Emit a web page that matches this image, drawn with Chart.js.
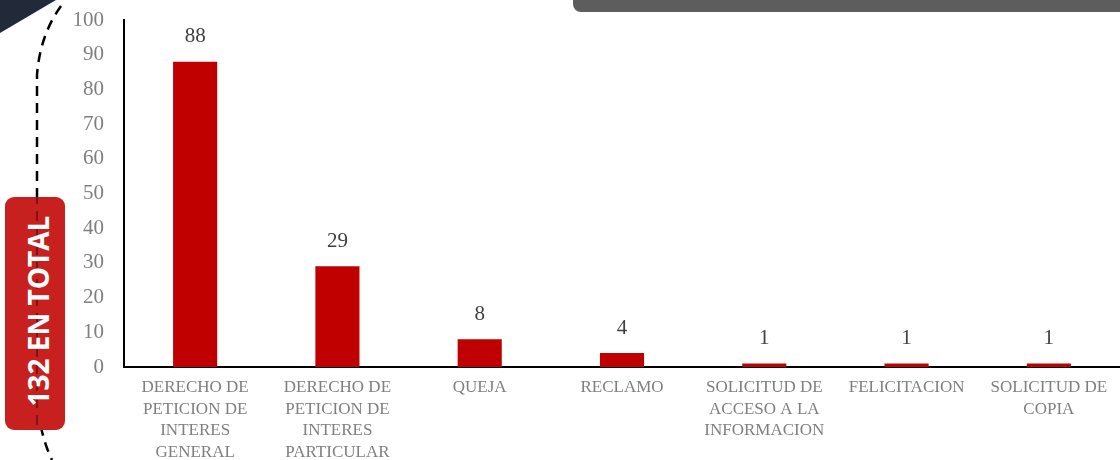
<!DOCTYPE html>
<html>
<head>
<meta charset="utf-8">
<script src="https://cdn.jsdelivr.net/npm/chart.js@4.4.1/dist/chart.umd.min.js"></script>
<style>
  html, body { margin: 0; padding: 0; background: #fff; }
  #wrap { position: relative; width: 1120px; height: 460px; overflow: hidden; }
  .deco { position: absolute; left: 0; top: 0; pointer-events: none; }
  canvas#chart { position: absolute; left: 0; top: 0; }
  #totalBox {
    position: absolute; left: 5px; top: 197px; width: 60px; height: 233px;
    background: #c8201f; border-radius: 9px;
  }
  #totalText {
    position: absolute; left: 38px; top: 311px;
    transform: translate(-50%, -50%) rotate(-90deg);
    white-space: nowrap; color: #fff; font: bold 28px "Open Sans", "DejaVu Sans", sans-serif;
  }
  #banner {
    position: absolute; left: 573px; top: -10px; width: 560px; height: 22px;
    background: #5d5d5d; border-radius: 8px;
  }
</style>
</head>
<body>
<div id="wrap">
  <svg class="deco" width="1120" height="460">
    <polygon points="0,0 56,0 0,33" fill="#222a3a"/>
    <path d="M61,6 Q40,35 37,75 L37,400 Q40,435 52,460" fill="none" stroke="#000" stroke-width="2.5" stroke-dasharray="10,7"/>
  </svg>
  <div id="banner"></div>
  <div id="totalBox"></div>
  <svg class="deco" width="1120" height="460">
    <line x1="37" y1="197" x2="37" y2="430" stroke="#7a1515" stroke-width="2" stroke-dasharray="10,7" stroke-dashoffset="3"/>
  </svg>
  <div id="totalText">132 EN TOTAL</div>
  <canvas id="chart" width="1120" height="460"></canvas>
</div>
<script>
// 数据
const categories = [
  ['DERECHO DE', 'PETICION DE', 'INTERES', 'GENERAL'],
  ['DERECHO DE', 'PETICION DE', 'INTERES', 'PARTICULAR'],
  ['QUEJA'],
  ['RECLAMO'],
  ['SOLICITUD DE', 'ACCESO A LA', 'INFORMACION'],
  ['FELICITACION'],
  ['SOLICITUD DE', 'COPIA']
];
const counts = [88, 29, 8, 4, 1, 1, 1];
const yTicks = [0, 10, 20, 30, 40, 50, 60, 70, 80, 90, 100];

// 柱顶数值标签
const valueLabels = {
  id: 'valueLabels',
  afterDatasetsDraw(chart) {
    const ctx = chart.ctx;
    const meta = chart.getDatasetMeta(0);
    ctx.save();
    ctx.font = '21px "Liberation Serif", serif';
    ctx.fillStyle = '#404040';
    ctx.textAlign = 'center';
    ctx.textBaseline = 'middle';
    meta.data.forEach((bar, i) => {
      ctx.fillText(String(counts[i]), bar.x, bar.y - 25);
    });
    ctx.restore();
  }
};

new Chart(document.getElementById('chart'), {
  type: 'bar',
  data: {
    labels: categories,
    datasets: [{
      data: counts,
      backgroundColor: '#c00000',
      borderWidth: 0,
      barPercentage: 0.31,
      categoryPercentage: 1
    }]
  },
  options: {
    responsive: false,
    animation: false,
    layout: { padding: { top: 20, right: 0, left: 0, bottom: 0 } },
    plugins: { legend: { display: false }, tooltip: { enabled: false } },
    scales: {
      y: {
        min: 0,
        max: 100,
        afterBuildTicks: (scale) => { scale.ticks = yTicks.map(v => ({ value: v })); },
        afterFit: (scale) => { scale.width = 124; scale.paddingTop = 0; scale.paddingBottom = 0; },
        border: { display: true, color: '#000', width: 2 },
        grid: { display: false, drawTicks: false },
        ticks: {
          padding: 20,
          color: '#7f7f7f',
          font: { family: '"Liberation Serif", serif', size: 21 }
        }
      },
      x: {
        afterFit: (scale) => { scale.height = 93; },
        border: { display: true, color: '#000', width: 2 },
        grid: { display: false, drawTicks: false },
        ticks: {
          padding: 10,
          maxRotation: 0,
          autoSkip: false,
          color: '#7f7f7f',
          font: { family: '"Liberation Serif", serif', size: 17, lineHeight: 1.27 }
        }
      }
    }
  },
  plugins: [valueLabels]
});
</script>
</body>
</html>
